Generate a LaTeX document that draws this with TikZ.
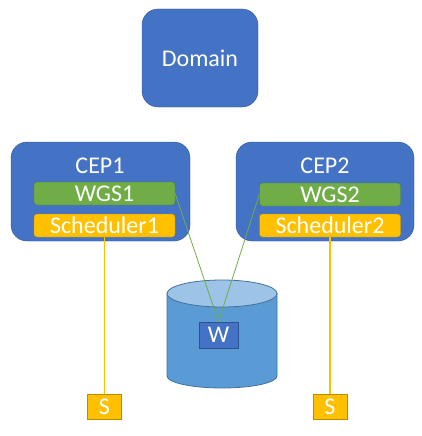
\documentclass[tikz,border=0pt]{standalone}
\usepackage{fontspec}
\setmainfont{Carlito}
\usepackage{xcolor}
\definecolor{boxblue}{HTML}{4472C4}
\definecolor{boxblueline}{HTML}{2F528F}
\definecolor{boxgreen}{HTML}{70AD47}
\definecolor{boxgreenline}{HTML}{507E32}
\definecolor{boxgold}{HTML}{FFC000}
\definecolor{boxgoldline}{HTML}{BC8C00}
\definecolor{drumblue}{HTML}{5B9BD5}
\definecolor{drumtop}{HTML}{9DC3E6}
\definecolor{drumline}{HTML}{41719C}
\tikzset{
  bluebox/.style={draw=boxblueline,fill=boxblue,text=white,rounded corners=16pt,inner sep=0pt},
  barbox/.style={rounded corners=3pt,minimum width=141pt,minimum height=23pt,inner sep=0pt,text=white,font=\fontsize{24}{24}\selectfont},
  wgsbox/.style={barbox,draw=boxgreenline,fill=boxgreen},
  schedbox/.style={barbox,draw=boxgoldline,fill=boxgold},
  sbox/.style={draw=boxgoldline,fill=boxgold,text=white,minimum width=34pt,minimum height=25pt,inner sep=0pt,font=\fontsize{24}{24}\selectfont},
  greenline/.style={draw=boxgreen,line width=0.8pt},
  goldline/.style={draw=boxgold,line width=1.5pt}
}
\begin{document}
\begin{tikzpicture}[x=1pt,y=-1pt]
\useasboundingbox (0,0) rectangle (422,436);
\node[bluebox,minimum width=116pt,minimum height=98pt,font=\fontsize{24}{24}\selectfont] (domain) at (200,58) {Domain};
\node[bluebox,minimum width=179pt,minimum height=99pt] (cep1) at (100.5,191.5) {};
\node[bluebox,minimum width=178pt,minimum height=99pt] (cep2) at (325,191.5) {};
\node[text=white,font=\fontsize{24}{24}\selectfont] (cep1label) at (100,166) {CEP1};
\node[text=white,font=\fontsize{24}{24}\selectfont] (cep2label) at (325,166) {CEP2};
\node[wgsbox] (wgs1) at (104.5,193.5) {WGS1};
\node[wgsbox] (wgs2) at (330,194.5) {WGS2};
\node[schedbox] (sched1) at (104.5,225.5) {Scheduler1};
\node[schedbox] (sched2) at (330,225.5) {Scheduler2};
\draw[draw=drumline,fill=drumblue,line width=0.8pt] (167,293.5) -- (167,376) arc[start angle=180,end angle=0,x radius=55,y radius=12] -- (277,293.5) -- cycle;
\draw[draw=drumline,fill=drumtop,line width=0.8pt] (222,293.5) ellipse[x radius=55,y radius=13.5];
\node[draw=boxblueline,fill=boxblue,text=white,minimum width=39pt,minimum height=26pt,inner sep=0pt,font=\fontsize{24}{24}\selectfont] (wnode) at (218.5,335) {W};
\node[sbox] (s1) at (104.5,406.5) {S};
\node[sbox] (s2) at (330,406.5) {S};
\draw[greenline] (wgs1.east) -- (wnode.north);
\draw[greenline] (wgs2.west) -- (wnode.north);
\draw[goldline] (sched1.south) -- (s1.north);
\draw[goldline] (sched2.south) -- (s2.north);
\end{tikzpicture}
\end{document}
